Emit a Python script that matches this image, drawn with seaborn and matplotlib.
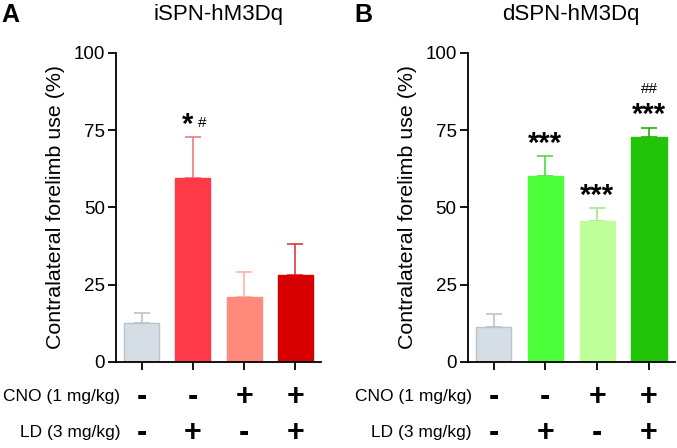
import pandas as pd
import matplotlib
matplotlib.use('Agg')
import matplotlib.pyplot as plt
import seaborn as sns

groups = ['g1', 'g2', 'g3', 'g4']
cno_signs = ['-', '-', '+', '+']
ld_signs = ['-', '+', '-', '+']

ispn_mean = [12.6, 59.5, 21.0, 28.0]
ispn_sem = [3.3, 13.3, 8.0, 10.3]
ispn_colors = ['#d6dee5', '#ff3a48', '#ff8a7c', '#d60000']
ispn_err_colors = ['#b8c3cc', '#f07a80', '#ffb0a6', '#e03a3a']

dspn_mean = [11.2, 60.2, 45.7, 72.8]
dspn_sem = [4.3, 6.3, 4.1, 3.0]
dspn_colors = ['#d6dee5', '#4cff3a', '#bfff99', '#22c40a']
dspn_err_colors = ['#b8c3cc', '#4cdc3a', '#a6e68a', '#22b00a']
dspn_marks = ['', '***', '***', '***']
dspn_hash = ['', '', '', '##']

sns.set_style('white')
plt.rcParams['font.family'] = ['Liberation Sans', 'DejaVu Sans']
plt.rcParams['text.color'] = 'black'
plt.rcParams['axes.labelcolor'] = 'black'
plt.rcParams['xtick.color'] = 'black'
plt.rcParams['ytick.color'] = 'black'

fig = plt.figure(figsize=(6.77, 4.48), dpi=100)
ax_a = fig.add_axes([0.1713, 0.192, 0.303, 0.69])
ax_b = fig.add_axes([0.6908, 0.192, 0.306, 0.69])


def draw_panel(ax, mean, sem, colors, err_colors, title):
    df = pd.DataFrame({'group': groups, 'value': mean})
    sns.barplot(data=df, x='group', y='value', hue='group', palette=colors,
                errorbar=None, width=0.68, legend=False, ax=ax, saturation=1)
    for i, bar in enumerate(ax.patches):
        bar.set_edgecolor('#b8c3cc' if i == 0 else colors[i])
        bar.set_linewidth(1.0)
        bar.set_zorder(2)
        ax.errorbar(i, mean[i], yerr=[[0], [sem[i]]], fmt='none',
                    ecolor=err_colors[i], elinewidth=1.2, capsize=6,
                    capthick=1.2, zorder=1)
    ax.set_xlim(-0.5, 3.5)
    ax.set_ylim(0, 100)
    ax.set_yticks([0, 25, 50, 75, 100])
    ax.tick_params(axis='y', labelsize=13.5, length=6, width=1.3,
                   direction='out', left=True, pad=2, colors='black')
    ax.tick_params(axis='x', length=6, width=1.3, direction='out', bottom=True,
                   labelbottom=False, colors='black')
    ax.set_xlabel('')
    ax.set_ylabel('Contralateral forelimb use (%)', fontsize=15.4, labelpad=6,
                  color='black')
    for s in ['top', 'right']:
        ax.spines[s].set_visible(False)
    for s in ['left', 'bottom']:
        ax.spines[s].set_linewidth(1.3)
        ax.spines[s].set_color('black')
    ax.text(0.5, 1.123, title, transform=ax.transAxes, fontsize=16,
            ha='center', va='center')
    # treatment rows below the axis
    for i in range(4):
        ax.annotate(cno_signs[i], xy=(i, 0), xycoords=('data', 'axes fraction'),
                    xytext=(0, -25), textcoords='offset points', ha='center',
                    va='center', fontsize=22, fontweight='bold')
        ax.annotate(ld_signs[i], xy=(i, 0), xycoords=('data', 'axes fraction'),
                    xytext=(0, -51), textcoords='offset points', ha='center',
                    va='center', fontsize=22, fontweight='bold')
    ax.annotate('CNO (1 mg/kg)', xy=(0, 0), xycoords='axes fraction',
                xytext=(3, -25), textcoords='offset points', ha='right',
                va='center', fontsize=12.5)
    ax.annotate('LD (3 mg/kg)', xy=(0, 0), xycoords='axes fraction',
                xytext=(3, -51), textcoords='offset points', ha='right',
                va='center', fontsize=12.5)


draw_panel(ax_a, ispn_mean, ispn_sem, ispn_colors, ispn_err_colors,
           'iSPN-hM3Dq')
draw_panel(ax_b, dspn_mean, dspn_sem, dspn_colors, dspn_err_colors,
           'dSPN-hM3Dq')

fig.text(0.002, 1 - 15 / 448, 'A', fontsize=18, fontweight='bold',
         ha='left', va='center')
fig.text(354 / 677, 1 - 15 / 448, 'B', fontsize=18, fontweight='bold',
         ha='left', va='center')

# significance marks
top = ispn_mean[1] + ispn_sem[1]
ax_a.annotate('*', xy=(1, top), xytext=(-3.6, 9), textcoords='offset points',
              ha='center', va='center', fontsize=21, fontweight='bold')
ax_a.annotate('#', xy=(1, top), xytext=(7, 10), textcoords='offset points',
              ha='center', va='center', fontsize=11)

for i in range(4):
    t = dspn_mean[i] + dspn_sem[i]
    if dspn_marks[i]:
        ax_b.annotate(dspn_marks[i], xy=(i, t), xytext=(0, 9),
                      textcoords='offset points', ha='center', va='center',
                      fontsize=21, fontweight='bold')
    if dspn_hash[i]:
        ax_b.annotate(dspn_hash[i], xy=(i, t), xytext=(0, 28),
                      textcoords='offset points', ha='center', va='center',
                      fontsize=11)

fig.savefig('out.png', dpi=100)
